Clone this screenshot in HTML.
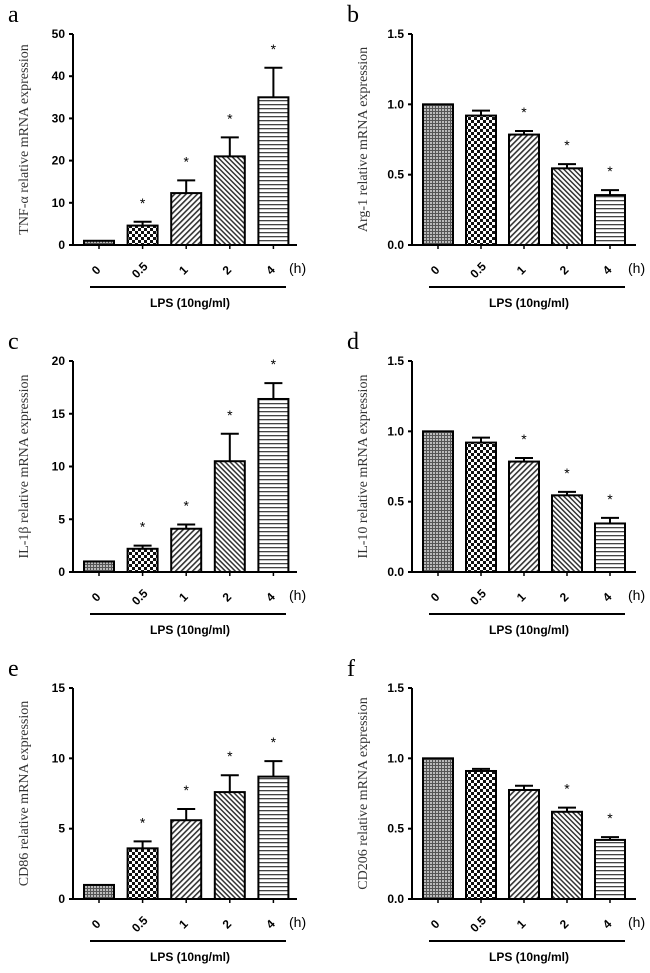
<!DOCTYPE html>
<html><head><meta charset="utf-8"><style>
body{margin:0;background:#fff;}
svg{display:block;}
.tick{font-family:"Liberation Sans",sans-serif;font-weight:bold;font-size:12px;}
.ytitle{font-family:"Liberation Serif",serif;font-size:14px;fill:#333;}
.letter{font-family:"Liberation Serif",serif;font-size:24px;}
</style></head><body>
<svg id="fig" width="650" height="973" viewBox="0 0 650 973" xmlns="http://www.w3.org/2000/svg">
<defs>
<pattern id="p0" width="3" height="3" patternUnits="userSpaceOnUse"><rect width="3" height="3" fill="#bbb"/><rect width="1" height="3" fill="#555"/><rect width="3" height="1" fill="#555"/></pattern>
<pattern id="p1" width="6" height="6" patternUnits="userSpaceOnUse"><rect width="6" height="6" fill="#fff"/><rect width="3" height="3" fill="#111"/><rect x="3" y="3" width="3" height="3" fill="#111"/></pattern>
<pattern id="p2" width="4" height="4" patternUnits="userSpaceOnUse" patternTransform="rotate(45)"><rect width="4" height="4" fill="#fff"/><rect width="1.6" height="4" fill="#333"/></pattern>
<pattern id="p3" width="3.5" height="3.5" patternUnits="userSpaceOnUse" patternTransform="rotate(-45)"><rect width="3.5" height="3.5" fill="#fff"/><rect width="1.5" height="3.5" fill="#333"/></pattern>
<pattern id="p4" width="4" height="4" patternUnits="userSpaceOnUse"><rect width="4" height="4" fill="#fff"/><rect width="4" height="1.3" fill="#444"/></pattern>
</defs>
</svg>
<script>
const categories = ["0","0.5","1","2","4"];
const aValues = [1, 4.6, 12.3, 21, 35];
const aErrors = [0, 0.9, 3.0, 4.5, 7];
const aStars = [0,1,1,1,1];
const aTicks = [0,10,20,30,40,50];
const bValues = [1, 0.92, 0.785, 0.545, 0.355];
const bErrors = [0, 0.035, 0.025, 0.03, 0.035];
const bStars = [0,0,1,1,1];
const bTicks = [0,0.5,1.0,1.5];
const cValues = [1, 2.2, 4.1, 10.5, 16.4];
const cErrors = [0, 0.3, 0.4, 2.6, 1.5];
const cStars = [0,1,1,1,1];
const cTicks = [0,5,10,15,20];
const dValues = [1, 0.92, 0.785, 0.545, 0.345];
const dErrors = [0, 0.035, 0.025, 0.025, 0.04];
const dStars = [0,0,1,1,1];
const dTicks = [0,0.5,1.0,1.5];
const eValues = [1, 3.6, 5.6, 7.6, 8.7];
const eErrors = [0, 0.5, 0.8, 1.2, 1.1];
const eStars = [0,1,1,1,1];
const eTicks = [0,5,10,15];
const fValues = [1, 0.91, 0.775, 0.62, 0.42];
const fErrors = [0, 0.015, 0.03, 0.03, 0.02];
const fStars = [0,0,0,1,1];
const fTicks = [0,0.5,1.0,1.5];

const NS="http://www.w3.org/2000/svg";
const svg=document.getElementById('fig');
function mk(tag,attrs,parent,text){const e=document.createElementNS(NS,tag);for(const k in attrs)e.setAttribute(k,attrs[k]);if(text!==undefined)e.textContent=text;(parent||svg).appendChild(e);return e;}

function panel(id,letter,ox,oy,title,values,errors,stars,ticks,decimals,step){
  const g=mk('g',{transform:`translate(${ox},${oy})`});
  
  
  const axX=73, top=34, base=245, right=297;
  const ymax=ticks[ticks.length-1];
  const y=v=>base-(v/ymax)*(base-top);
  const x=i=>84+i*step;
  const bw=30;
  const L=mk('text',{x:8,y:22,class:'letter'},g,letter);
  
  
  const t=mk('text',{class:'ytitle',transform:`translate(28,${(top+base)/2}) rotate(-90)`,'text-anchor':'middle'},g,title);
  
  
  const ya=mk('line',{x1:axX,y1:top,x2:axX,y2:base,stroke:'#000','stroke-width':2},g);
  
  
  const xa=mk('line',{x1:axX,y1:base,x2:right,y2:base,stroke:'#000','stroke-width':2},g);
  
  
  ticks.forEach(v=>{
    mk('line',{x1:axX-4,y1:y(v),x2:axX,y2:y(v),stroke:'#000','stroke-width':2},g);
    const tl=mk('text',{x:axX-8,y:y(v)+4,class:'tick','text-anchor':'end'},g,decimals?v.toFixed(1):String(v));
    
    
  });
  values.forEach((v,i)=>{
    const cx=x(i)+bw/2;
    mk('line',{x1:cx,y1:base,x2:cx,y2:base+4,stroke:'#000','stroke-width':1.5},g);
    if(errors[i]>0){
      const e1=mk('line',{x1:cx,y1:y(v),x2:cx,y2:y(v+errors[i]),stroke:'#000','stroke-width':2},g);
      
      
      mk('line',{x1:cx-9,y1:y(v+errors[i]),x2:cx+9,y2:y(v+errors[i]),stroke:'#000','stroke-width':2},g);
    }
    const r=mk('rect',{x:x(i),y:y(v),width:bw,height:base-y(v),fill:`url(#p${i})`,stroke:'#000','stroke-width':2},g);
    
    
    if(stars[i]){
      const s=mk('text',{x:cx,y:y(v+errors[i])-14,'text-anchor':'middle','font-family':'Liberation Sans, sans-serif','font-size':'14'},g,'*');
      
      
    }
    const cl=mk('text',{class:'tick','text-anchor':'middle',transform:`translate(${cx},${base+28}) rotate(-45)`},g,categories[i]);
    
    
  });
  const h=mk('text',{x:right-8,y:base+28,'font-family':'Liberation Sans, sans-serif','font-size':'14'},g,'(h)');
  
  
  const ul=mk('line',{x1:90,y1:base+42,x2:286,y2:base+42,stroke:'#000','stroke-width':2},g);
  
  
  const lps=mk('text',{x:190,y:base+62,class:'tick','text-anchor':'middle'},g,'LPS (10ng/ml)');
  
  
}
panel('a','a',0,0,'TNF-α  relative  mRNA expression',aValues,aErrors,aStars,aTicks,false,43.6);
panel('b','b',339,0,'Arg-1 relative  mRNA expression',bValues,bErrors,bStars,bTicks,true,43);
panel('c','c',0,327,'IL-1β  relative mRNA expression',cValues,cErrors,cStars,cTicks,false,43.6);
panel('d','d',339,327,'IL-10 relative  mRNA expression',dValues,dErrors,dStars,dTicks,true,43);
panel('e','e',0,654,'CD86 relative  mRNA expression',eValues,eErrors,eStars,eTicks,false,43.6);
panel('f','f',339,654,'CD206 relative  mRNA expression',fValues,fErrors,fStars,fTicks,true,43);
</script>
</body></html>
